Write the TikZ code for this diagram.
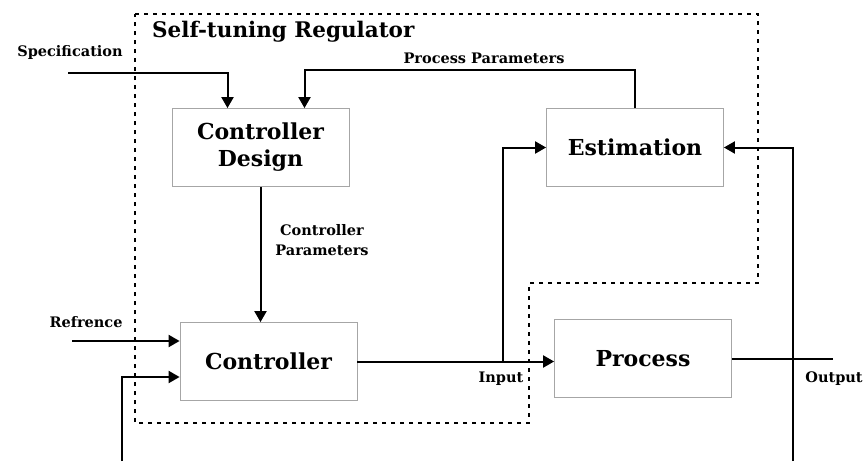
\documentclass[tikz,border=0pt]{standalone}
\usepackage{fontspec}
\setmainfont{DejaVu Serif}
\usetikzlibrary{arrows.meta}

\begin{document}
\begin{tikzpicture}[x=1pt,y=-1pt,
  block/.style={draw=gray!70, line width=0.8pt, rectangle, minimum width=177pt,
    minimum height=78pt, inner sep=0pt, align=center,
    font=\bfseries\fontsize{22}{27}\selectfont},
  wire/.style={line width=2pt},
  sig/.style={wire, -{Triangle[length=11pt,width=12pt]}},
  lbl/.style={font=\bfseries\fontsize{14.5}{20}\selectfont, inner sep=0pt},
  region/.style={line width=1.8pt, dash pattern=on 4pt off 5pt}]
  \useasboundingbox (0,0) rectangle (868,461);

  % Dotted boundary of the regulator
  \draw[region] (135,14) -- (758,14) -- (758,283) -- (529,283) -- (529,423) -- (135,423) -- cycle;
  \node[font=\bfseries\fontsize{21.5}{24}\selectfont, anchor=west, inner sep=0pt] (title) at (152,32) {Self-tuning Regulator};

  % Blocks
  \node[block] (design) at (260.5,147.5) {Controller\\Design};
  \node[block] (estim) at (635,147.5) {Estimation};
  \node[block] (ctrl) at (268.5,361.5) {Controller};
  \node[block] (proc) at (643,358.5) {Process};

  % Free ends of the signals
  \coordinate (spec) at (68,73);
  \coordinate (ref) at (72,341);
  \coordinate (fb) at (122,461);
  \coordinate (yfb) at (793,461);
  \coordinate (out) at (833,358.5);
  \coordinate (tap) at (503,361.5);

  % Signals
  \draw[sig] (spec) -| ([xshift=-33pt]design.north);
  \draw[sig] (estim.north) -- ++(0,-38) -| ([xshift=44pt]design.north);
  \draw[sig] (design.south) -- (design.south |- ctrl.north);
  \draw[sig] (ref) -- (ref -| ctrl.west);
  \draw[sig] (fb) |- ([yshift=-15.5pt]ctrl.west);
  \draw[sig] (ctrl.east) -- (ctrl.east -| proc.west);
  \draw[sig] (tap) |- (estim.west);
  \draw[wire] (proc.east) -- (out);
  \draw[sig] (yfb) |- (estim.east);

  % Labels
  \node[lbl] (speclbl) at (70,52) {Specification};
  \node[lbl] (pplbl) at (484,58) {Process Parameters};
  \node[lbl, align=center] (cplbl) at (322,240) {Controller\\Parameters};
  \node[lbl] (reflbl) at (86,322) {Refrence};
  \node[lbl] (inlbl) at (501,379) {Input};
  \node[lbl] (outlbl) at (834,379) {Output};
\end{tikzpicture}
\end{document}
